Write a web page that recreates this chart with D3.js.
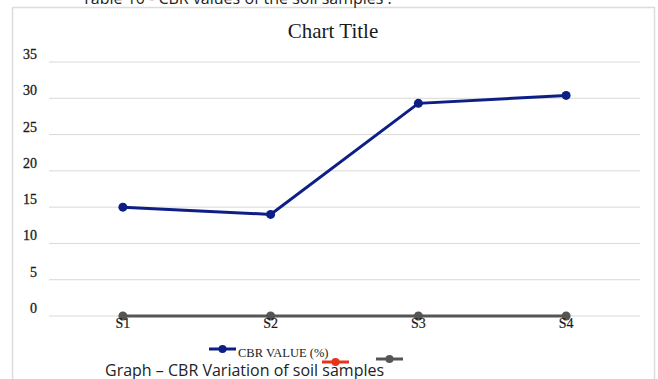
<!DOCTYPE html>
<html>
<head>
<meta charset="utf-8">
<script src="https://cdn.jsdelivr.net/npm/d3@7"></script>
<style>
  body { margin: 0; background: #fff; }
  svg { display: block; }
</style>
</head>
<body>
<div id="wrapper"></div>
<script>
// data
const samples = ['S1', 'S2', 'S3', 'S4'];
const cbrValues = [15, 14, 29.3, 30.4];
const redValues = [0, 0, 0, 0];
const greyValues = [0, 0, 0, 0];
const yTicks = [0, 5, 10, 15, 20, 25, 30, 35];
const legendNames = ['CBR VALUE (%)', '', ''];

const width = 658;
const height = 379;
const margin = {top: 62, right: 18, bottom: 63, left: 49};
const plotW = width - margin.left - margin.right;
const plotH = height - margin.top - margin.bottom;

const svg = d3.select('#wrapper')
  .append('svg')
  .attr('width', width)
  .attr('height', height);

// chart frame
svg.append('rect')
  .attr('x', 12.5).attr('y', 7.5)
  .attr('width', 642).attr('height', 400)
  .attr('fill', '#fff')
  .attr('stroke', '#dcdcdc')
  .attr('stroke-width', 1.5);

// caption above, mostly cut off
svg.append('text')
  .attr('x', 82).attr('y', 4)
  .attr('font-family', 'Open Sans, sans-serif')
  .attr('font-size', 16)
  .attr('fill', '#222')
  .text('Table 10 - CBR values of the soil samples :');

svg.append('text')
  .attr('x', 333).attr('y', 38)
  .attr('text-anchor', 'middle')
  .attr('font-family', 'Liberation Serif, serif')
  .attr('font-size', 21)
  .attr('fill', '#1a1a1a')
  .text('Chart Title');

const x = d3.scalePoint()
  .domain(samples)
  .range([margin.left, margin.left + plotW])
  .padding(0.5);

const y = d3.scaleLinear()
  .domain([0, 35])
  .range([margin.top + plotH, margin.top]);

const bounds = svg.append('g');

// gridlines
bounds.selectAll('.grid')
  .data(yTicks)
  .enter()
  .append('line')
  .attr('x1', margin.left)
  .attr('x2', margin.left + plotW)
  .attr('y1', d => y(d))
  .attr('y2', d => y(d))
  .attr('stroke', '#d9d9d9')
  .attr('stroke-width', 1);

// y tick labels, sitting a little above their lines
bounds.selectAll('.ylab')
  .data(yTicks)
  .enter()
  .append('text')
  .attr('x', 37)
  .attr('y', d => y(d) - 3)
  .attr('text-anchor', 'end')
  .attr('font-family', 'Liberation Serif, serif')
  .attr('font-size', 14)
  .attr('fill', '#1a1a1a')
  .attr('stroke', '#1a1a1a')
  .attr('stroke-width', 0.3)
  .text(d => d);

const line = d3.line()
  .x((d, i) => x(samples[i]))
  .y(d => y(d));

const series = [
  {values: greyValues, color: '#555555', w: 3},
  {values: redValues, color: '#e8321a', w: 1.5},
  {values: cbrValues, color: '#0d1f85', w: 3},
];
// grey drawn over red at zero, like the picture
const order = [series[1], series[0], series[2]];

order.forEach(s => {
  bounds.append('path')
    .datum(s.values)
    .attr('d', line)
    .attr('fill', 'none')
    .attr('stroke', s.color)
    .attr('stroke-width', s.w);
  bounds.selectAll(null)
    .data(s.values)
    .enter()
    .append('circle')
    .attr('cx', (d, i) => x(samples[i]))
    .attr('cy', d => y(d))
    .attr('r', s.w < 2 ? 3 : 4.5)
    .attr('fill', s.color);
});

// x labels
bounds.selectAll('.xlab')
  .data(samples)
  .enter()
  .append('text')
  .attr('x', d => x(d))
  .attr('y', y(0) + 12)
  .attr('text-anchor', 'middle')
  .attr('font-family', 'Liberation Serif, serif')
  .attr('font-size', 14)
  .attr('fill', '#1a1a1a')
  .attr('stroke', '#1a1a1a')
  .attr('stroke-width', 0.2)
  .text(d => d);

// legend
const legend = [
  {x: 209, y: 349, color: '#0d1f85', name: legendNames[0]},
  {x: 322, y: 362, color: '#e8321a', name: legendNames[1]},
  {x: 376, y: 359, color: '#555555', name: legendNames[2]},
];
legend.forEach(l => {
  svg.append('line')
    .attr('x1', l.x).attr('x2', l.x + 27)
    .attr('y1', l.y).attr('y2', l.y)
    .attr('stroke', l.color)
    .attr('stroke-width', 3);
  svg.append('circle')
    .attr('cx', l.x + 13.5).attr('cy', l.y)
    .attr('r', 4)
    .attr('fill', l.color);
  if (l.name) {
    svg.append('text')
      .attr('x', l.x + 29).attr('y', l.y + 8)
      .attr('font-family', 'Liberation Serif, serif')
      .attr('font-size', 12.5)
      .attr('fill', '#1a1a1a')
      .text(l.name);
  }
});

// caption overlapping the bottom
svg.append('text')
  .attr('x', 105).attr('y', 376)
  .attr('font-family', 'Open Sans, sans-serif')
  .attr('font-size', 16)
  .attr('fill', '#222')
  .text('Graph \u2013 CBR Variation of soil samples');
</script>
</body>
</html>
